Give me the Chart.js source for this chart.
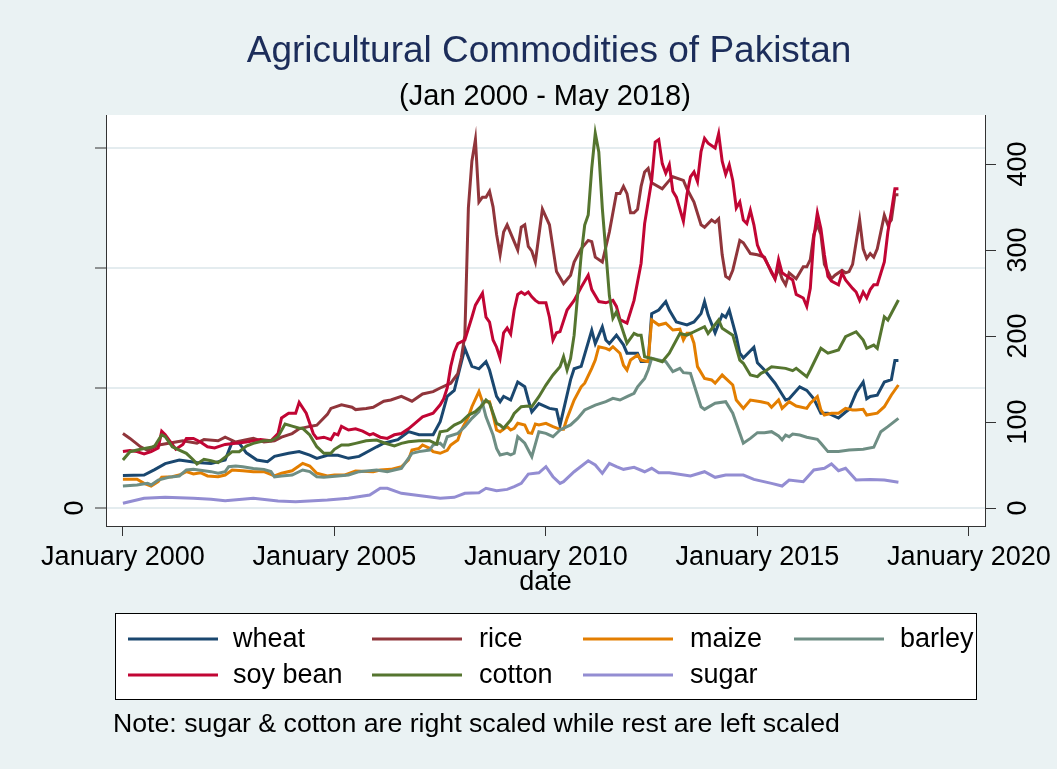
<!DOCTYPE html>
<html><head><meta charset="utf-8">
<script src="https://cdn.jsdelivr.net/npm/chart.js@4/dist/chart.umd.min.js"></script>
<style>
html,body{margin:0;padding:0;background:#eaf2f3;}
canvas{display:block;}
</style></head><body>
<canvas id="c" width="1057" height="769"></canvas>
<script>
// ---- texts ----
const titleText = 'Agricultural Commodities of Pakistan';
const subtitleText = '(Jan 2000 - May 2018)';
const noteText = 'Note: sugar & cotton are right scaled while rest are left scaled';
const xAxisTitle = 'date';

// ---- ticks ----
const xTickYears = [2000, 2005, 2010, 2015, 2020];
const leftTicks = [0, 100, 200, 300];
const leftTickLabels = ['0', '', '', ''];
const rightTicks = [0, 100, 200, 300, 400];

// ---- series: [months since January 2000, value] ----
const wheat = [[0,27],[6,27.5],[9,32],[12,37],[16,40],[21,38],[25,37],[29,40],[31,55],[33,54],[35,46],[38,40],[41,38.6],[43,43],[47,45.6],[50,47],[53,44],[55,41.4],[58,44],[61,44],[64,41.4],[67,43],[72,51],[74,54],[78,57],[81,63.6],[84,61],[88,61],[90,72],[92,93],[94,98],[97,133],[99,118],[101,116],[103,122],[104,115],[106,93],[107,88.6],[108,93],[110,90],[112,105],[114,101],[115,90],[116,80],[118,87],[121,83],[123,82],[124,69],[127,107],[128,116],[130,118],[133,148],[134,137],[136,151],[137,140],[138,137],[140,144],[142,136],[143,129],[146,129],[147,122],[149,122],[150,162],[152,165],[154,172],[155,165],[157,155],[160,152.5],[162,155],[164,162],[165,172],[166,161],[168,146],[170,161],[171,159],[172,165],[174,143],[175,129],[176,125],[179,134],[180,121],[182,115],[185,104],[188,90],[189,91],[192,101],[194,98],[196,91],[198,79],[200,79],[203,75],[205,80],[206,82],[208,96],[210,105],[211,91],[212,93],[214,94],[216,105],[218,107],[219,123],[220,123]];
const rice = [[0,62],[2,58],[5,51],[7,48],[9,51],[11,53],[15,55],[17,56],[21,54],[23,57],[27,56],[29,59],[32,55],[35,57],[37,58],[40,55],[43,56],[45,59],[48,62],[50,66],[53,68],[55,69],[58,78],[59,83],[62,86],[65,84],[66,82],[69,83],[71,84],[74,89],[76,90],[79,93],[82,89],[85,95],[88,97],[90,100],[93,104],[95,112],[96,125],[97,144],[98,250],[99,289],[100,307],[101,255],[102,259],[103,259],[104,264],[105,251],[106,228],[107,211],[108,230],[109,236],[111,222],[112,215],[113,234],[114,236],[115,218],[116,214],[117,205],[119,249],[121,236],[123,197],[125,187],[127,194],[128,205],[130,216],[132,223],[133,222],[134,209],[136,205],[138,230],[140,262],[141,262],[142,268],[143,262],[144,246],[145,246],[146,249],[147,268],[148,280],[149,283],[150,271],[153,266],[155,273],[156,276],[159,273],[160,266],[162,255],[164,236],[165,234],[167,240],[168,238],[169,241],[170,211],[171,193],[172,191],[173,198],[175,223],[176,221],[178,212],[180,211],[182,209],[184,196],[185,191],[186,200],[187,191],[188,186],[189,196],[191,191],[193,201],[194,201],[195,207],[196,228],[197,236],[198,228],[199,203],[201,191],[202,194],[204,198],[205,196],[206,197],[207,203],[209,240],[210,216],[211,208],[212,212],[213,209],[214,216],[216,244],[217,236],[218,240],[219,261],[220,261]];
const maize = [[0,24],[4,24],[6,20.6],[8,18.3],[10,22],[11,25.6],[14,26],[16,27.5],[18,30.3],[20,28.3],[22,29.4],[24,26.7],[27,26],[29,27.5],[31,31.7],[34,31],[37,30.3],[40,30.3],[43,26.7],[45,29],[48,31],[51,37.2],[53,35],[55,29],[58,26.7],[60,27.5],[63,27.5],[66,30.8],[71,30.3],[73,31.7],[76,32.2],[79,34.4],[81,40],[82,48.3],[84,49.7],[85,52.5],[87,49.7],[88,47],[90,45.6],[92,48],[93,52.5],[95,56.7],[96,65],[98,76],[99,84.4],[101,97],[102,88.6],[104,88.6],[105,77.5],[106,65],[107,63.6],[109,67.8],[110,65],[111,66.4],[112,70.6],[114,69.2],[115,62.8],[116,62.2],[117,70],[118,69.2],[120,70.6],[122,67.8],[124,65.6],[125,65.6],[126,74.7],[128,90],[130,101],[131,104],[133,116.4],[134,123.3],[135,134.4],[137,133],[138,131.7],[139,134.4],[141,129],[142,119],[143,115],[144,123.3],[146,127.5],[147,123.3],[149,122],[150,156.7],[152,152.5],[154,154],[156,148.3],[158,149],[159,140],[160,145.6],[161,145.6],[162,137.3],[163,117.8],[165,108],[167,106.7],[168,104],[170,110.8],[171,108],[173,102.5],[174,90],[176,83],[178,90],[181,88.6],[183,87.3],[184,84],[186,90],[187,83],[189,88.6],[191,85],[194,83],[195,87.3],[197,92.8],[198,81.7],[199,77.5],[201,79],[203,79],[205,83],[207,81.7],[208,81.7],[210,82.2],[211,77.5],[214,79],[216,84.4],[218,94.2],[220,102.5]];
const barley = [[0,18.3],[4,19.2],[7,20.6],[8,19.2],[10,23.3],[13,25.6],[16,26.7],[18,31.7],[20,32.2],[23,31],[25,30.3],[27,29],[29,30.3],[30,34.4],[32,35],[34,34.4],[37,33],[40,32.2],[42,30.3],[43,26],[45,26.7],[48,27.5],[51,31.7],[53,30.3],[55,26],[57,25.6],[61,26.7],[64,27.5],[67,30.3],[72,31.7],[75,30.3],[77,31.7],[79,33],[81,41.4],[82,45.6],[84,47],[87,48.3],[88,52.5],[90,54],[91,51],[92,59.4],[95,62.2],[97,67.8],[99,74.7],[101,80.3],[102,87.3],[103,76],[105,60.8],[106,49.7],[107,44.2],[109,45.6],[110,44.2],[111,45.6],[112,59.4],[114,54],[116,42.8],[118,63.6],[120,62.2],[122,59.4],[124,65],[127,69.2],[129,74.7],[131,81.7],[134,85.8],[137,88.6],[139,91.4],[141,90],[143,92.8],[145,95.6],[146,101],[148,108],[149,115],[150,124.7],[152,123.3],[154,122],[156,113.6],[158,116.4],[159,112.8],[161,112.2],[164,84.4],[165,82.2],[168,87.3],[171,88.6],[173,79],[175,62.2],[176,54],[178,58],[180,62.8],[182,62.8],[184,63.6],[186,60],[187,56.7],[188,60.8],[189,59.4],[190,61.7],[192,60.8],[194,59],[197,57.2],[198,54],[200,47],[203,47],[206,48.3],[210,49],[213,50.6],[215,63.6],[217,67.8],[220,74.7]];
const soyBean = [[0,47],[2,48],[4,47],[6,45],[8,47],[10,50],[11,64],[12,61],[14,53],[15,49],[17,53],[18,58],[20,58],[22,55],[24,51],[26,50],[29,53],[32,54],[35,55],[39,57],[42,56],[44,62],[45,75],[47,79],[49,79],[50,88],[52,79],[54,62],[55,58],[57,59],[59,57],[60,62],[61,61],[62,68],[64,65],[66,66],[68,64],[70,61],[71,62],[73,59],[75,58],[77,61],[79,62],[81,66],[83,71],[85,76],[88,79],[90,86],[91,91],[92,100],[93,118],[94,130],[95,137],[97,140],[99,159],[100,169],[102,179],[103,159],[104,155],[105,140],[106,134],[107,125],[108,146],[109,150],[110,145],[111,165],[112,178],[113,180],[114,178],[115,180],[116,176],[117,173],[118,171],[120,171],[121,159],[122,140],[123,146],[124,147],[126,165],[128,173],[130,184],[132,194],[133,182],[135,172],[137,171],[139,173],[140,168],[141,157],[143,154],[145,173],[147,204],[148,237],[150,273],[151,305],[152,307],[153,287],[154,279],[155,286],[156,264],[157,259],[159,239],[160,261],[161,276],[162,280],[163,272],[164,297],[165,308],[166,304],[168,300],[169,312],[170,289],[171,278],[172,286],[173,273],[174,250],[175,255],[176,240],[177,237],[178,248],[179,236],[180,219],[181,212],[182,208],[184,197],[185,191],[186,207],[187,196],[188,194],[190,190],[191,178],[193,175],[194,168],[195,183],[196,225],[197,246],[198,233],[199,211],[200,193],[201,189],[203,186],[204,196],[205,190],[207,183],[208,180],[209,173],[210,180],[211,175],[212,182],[213,186],[214,186],[216,205],[217,230],[218,247],[219,266],[220,266]];
const cotton = [[0,55.8],[2,65.5],[5,68.3],[8,70.6],[9,72.1],[11,84.9],[12,82.9],[14,71.3],[16,67.4],[18,63.6],[20,55.8],[21,51.2],[23,56.6],[25,55],[27,52.7],[29,59],[31,65.5],[33,65.5],[35,72.1],[37,75.2],[40,78.3],[42,78.3],[44,82.9],[46,97.7],[48,95.3],[50,92.7],[51,92.7],[53,84.9],[55,71.3],[57,63.6],[59,63.6],[60,68.3],[62,73.3],[64,73.3],[66,75.2],[69,78.3],[72,79],[74,75.9],[77,72.1],[79,75.2],[81,77.1],[84,78.3],[87,78.3],[89,74.4],[90,88.7],[92,90],[94,96.5],[96,100.3],[98,108],[100,112],[102,119.8],[103,125.6],[104,122],[106,98.5],[107,96.5],[108,92.7],[110,102.3],[111,110],[113,117.8],[115,118.6],[116,117.8],[118,129.4],[120,143],[122,154.7],[124,164.3],[125,176],[126,160.5],[127,174],[128,201],[130,294],[131,329],[132,340.7],[133,395],[134,435.7],[135,414],[136,348.5],[137,298],[138,247],[139,220.6],[140,228],[141,216.6],[143,191.5],[145,203],[146,201],[147,201],[148,176],[150,174],[153,170],[155,180],[158,203],[160,201],[162,205],[165,210.8],[166,203],[169,218.6],[170,209],[173,201],[175,172],[176,168.3],[178,154.7],[180,152.7],[181,156.6],[182,158.5],[184,164.3],[188,162.4],[190,159.7],[191,162.4],[194,152.7],[195,160.5],[198,185.7],[200,180],[203,183.7],[205,199.2],[208,205],[210,195.3],[211,185.7],[213,189.5],[214,185.7],[216,222.4],[217,218.6],[220,241.9]];
const sugar = [[0,5.5],[6,11.3],[12,12.4],[20,11.3],[25,10.1],[29,8.5],[37,11.3],[44,8.1],[49,7.3],[58,9.3],[64,11.3],[70,15.1],[73,22.9],[75,22.9],[79,17.1],[85,14],[90,11.3],[94,12.4],[97,17.1],[101,17.8],[103,22.9],[106,20],[109,21.7],[111,24.8],[113,28.7],[115,39.5],[118,41],[120,48.1],[122,36.4],[124,28.7],[125,30.6],[128,42.2],[132,55],[134,50],[136,40.3],[138,52],[140,48.1],[142,45],[145,47.3],[148,42.2],[150,46.2],[152,41],[155,41],[161,37.2],[165,42.2],[168,35.7],[171,38.4],[176,38.4],[179,33.3],[184,28.7],[187,25.6],[189,32.6],[193,30.6],[196,44.2],[199,46.2],[201,51.2],[203,43.4],[205,46.2],[208,32.6],[212,33.3],[216,32.6],[220,29.9]];

const seriesNames = ['wheat', 'rice', 'maize', 'barley', 'soy bean', 'cotton', 'sugar'];
const seriesData = [wheat, rice, maize, barley, soyBean, cotton, sugar];
const seriesAxis = ['yL', 'yL', 'yL', 'yL', 'yL', 'yR', 'yR'];
const seriesColors = ['#1a476f', '#90353b', '#e37e00', '#6e8e84', '#c10534', '#55752f', '#938dd2'];

const START_YEAR = 2000;
const FONT = '"Liberation Sans", Arial, Helvetica, sans-serif';
const INK = '#333333';

const datasets = seriesData.map((arr, i) => ({
  label: seriesNames[i],
  data: arr.map(([m, v]) => ({ x: START_YEAR + m / 12, y: v })),
  yAxisID: seriesAxis[i],
  borderColor: seriesColors[i],
  backgroundColor: seriesColors[i],
  borderWidth: 3,
  pointRadius: 0,
  tension: 0,
  fill: false,
  order: seriesData.length - i
}));

const decor = {
  id: 'decor',
  beforeDraw(chart) {
    const { ctx, chartArea: a } = chart;
    ctx.save();
    ctx.fillStyle = '#eaf2f3';
    ctx.fillRect(0, 0, chart.width, chart.height);
    ctx.fillStyle = '#ffffff';
    ctx.fillRect(a.left, a.top, a.right - a.left, a.bottom - a.top);
    ctx.restore();
  },
  afterDraw(chart) {
    const { ctx, chartArea: a } = chart;
    const yL = chart.scales.yL, yR = chart.scales.yR;
    ctx.save();
    ctx.textAlign = 'center';
    ctx.textBaseline = 'middle';
    // title & subtitle
    ctx.fillStyle = '#1c2d5a';
    ctx.font = `37px ${FONT}`;
    ctx.fillText(titleText, 549, 52);
    ctx.fillStyle = '#000';
    ctx.font = `29px ${FONT}`;
    ctx.fillText(subtitleText, 545, 97);
    // x axis title
    ctx.font = `27px ${FONT}`;
    ctx.fillText(xAxisTitle, (a.left + a.right) / 2, 583);
    // rotated y tick labels
    leftTicks.forEach((v, i) => {
      const lab = leftTickLabels[i];
      if (!lab) return;
      ctx.save();
      ctx.translate(a.left - 30.5, yL.getPixelForValue(v));
      ctx.rotate(-Math.PI / 2);
      ctx.fillText(lab, 0, 0);
      ctx.restore();
    });
    rightTicks.forEach(v => {
      ctx.save();
      ctx.translate(a.right + 34, yR.getPixelForValue(v));
      ctx.rotate(-Math.PI / 2);
      ctx.fillText(String(v), 0, 0);
      ctx.restore();
    });
    // legend box
    ctx.fillStyle = '#ffffff';
    ctx.fillRect(115.5, 613.5, 861, 86);
    ctx.strokeStyle = '#000';
    ctx.lineWidth = 1;
    ctx.strokeRect(115.5, 613.5, 861, 86);
    const lineX = [128, 372, 583, 794];
    const textX = [233, 479, 690, 900];
    const rowY = [640, 676];
    ctx.textAlign = 'left';
    chart.data.datasets.forEach((ds, i) => {
      const col = i % 4, row = Math.floor(i / 4);
      const y = rowY[row];
      ctx.strokeStyle = ds.borderColor;
      ctx.lineWidth = 3;
      ctx.beginPath();
      ctx.moveTo(lineX[col], y - 1);
      ctx.lineTo(lineX[col] + 90, y - 1);
      ctx.stroke();
      ctx.fillStyle = '#000';
      ctx.font = `27px ${FONT}`;
      ctx.fillText(ds.label, textX[col], y);
    });
    // note
    ctx.font = `26.7px ${FONT}`;
    ctx.fillText(noteText, 113, 725);
    ctx.restore();
  }
};

new Chart(document.getElementById('c'), {
  type: 'line',
  data: { datasets },
  plugins: [decor],
  options: {
    responsive: false,
    animation: false,
    devicePixelRatio: 1,
    layout: { padding: { top: 115, left: 0, right: 0, bottom: 0 } },
    plugins: { legend: { display: false }, tooltip: { enabled: false }, title: { display: false } },
    scales: {
      x: {
        type: 'linear',
        position: 'bottom',
        min: 1999.6,
        max: 2020.38,
        afterBuildTicks: s => { s.ticks = xTickYears.map(v => ({ value: v })); },
        afterFit: s => { s.height = 243; },
        ticks: {
          callback: v => 'January ' + v,
          font: { family: FONT, size: 27 },
          color: '#000',
          padding: 5,
          autoSkip: false,
          maxRotation: 0,
          minRotation: 0
        },
        grid: { drawOnChartArea: false, tickLength: 10, tickColor: INK, tickWidth: 1 },
        border: { display: true, color: INK, width: 1 }
      },
      yL: {
        type: 'linear',
        position: 'left',
        min: -15,
        max: 327.5,
        afterBuildTicks: s => { s.ticks = leftTicks.map(v => ({ value: v })); },
        afterFit: s => { s.width = 106; },
        ticks: { display: false },
        grid: { drawOnChartArea: true, color: '#e4ecef', lineWidth: 2, tickLength: 11, tickColor: INK, tickWidth: 1 },
        border: { display: true, color: INK, width: 1 }
      },
      yR: {
        type: 'linear',
        position: 'right',
        min: -20.9,
        max: 457,
        afterBuildTicks: s => { s.ticks = rightTicks.map(v => ({ value: v })); },
        afterFit: s => { s.width = 69; },
        ticks: { display: false },
        grid: { drawOnChartArea: false, tickLength: 11, tickColor: INK, tickWidth: 1 },
        border: { display: true, color: INK, width: 1 }
      }
    }
  }
});
</script>
</body></html>
